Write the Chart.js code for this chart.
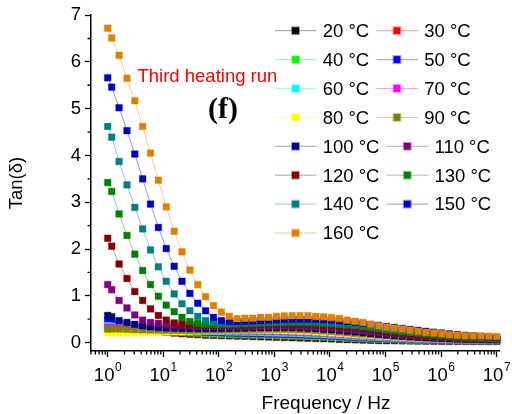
<!DOCTYPE html>
<html>
<head>
<meta charset="utf-8">
<script src="https://cdn.jsdelivr.net/npm/chart.js@4.4.0/dist/chart.umd.min.js"></script>
<style>
  html, body { margin: 0; padding: 0; background: #fff; }
  #wrap { width: 512px; height: 414px; }
</style>
</head>
<body>
<div id="wrap"><canvas id="chart" width="512" height="414"></canvas></div>
<script>
// frequencies (Hz) shared by all runs
const freqs = [1, 1.18, 1.6, 2.22, 3.07, 4.25, 5.89, 8.16, 11.3, 15.7,
  21.7, 30.1, 41.7, 57.7, 80, 111, 154, 213, 295, 408,
  566, 784, 1085, 1504, 2084, 2887, 4000, 5541, 7677, 10634,
  14734, 20408, 28275, 39170, 54270, 75190, 104200, 144300, 199900, 277000,
  383800, 531700, 736600, 1020000, 1414000, 1959000, 2714000, 3760000, 5210000, 7220000, 10000000];

const temps = ['20 °C', '30 °C', '40 °C', '50 °C', '60 °C', '70 °C', '80 °C', '90 °C',
  '100 °C', '110 °C', '120 °C', '130 °C', '140 °C', '150 °C', '160 °C'];

const colors = ['#000000', '#FF0000', '#00FF00', '#0000FF', '#00FFFF', '#FF00FF', '#FFFF00', '#808000',
  '#000080', '#800080', '#800000', '#008000', '#008080', '#0000C0', '#E08000'];

const tan20 = [0.30, 0.29, 0.28, 0.27, 0.26, 0.255, 0.25, 0.235, 0.22, 0.205,
  0.19, 0.18, 0.17, 0.16, 0.155, 0.15, 0.145, 0.14, 0.135, 0.13,
  0.125, 0.12, 0.115, 0.11, 0.105, 0.10, 0.095, 0.09, 0.085, 0.08,
  0.07, 0.065, 0.06, 0.055, 0.05, 0.045, 0.042, 0.04, 0.038, 0.036,
  0.034, 0.032, 0.03, 0.028, 0.027, 0.026, 0.025, 0.024, 0.023, 0.022, 0.022];
const tan30 = [0.32, 0.31, 0.30, 0.29, 0.28, 0.27, 0.265, 0.25, 0.235, 0.22,
  0.205, 0.195, 0.185, 0.178, 0.172, 0.167, 0.163, 0.159, 0.155, 0.151,
  0.147, 0.143, 0.139, 0.135, 0.13, 0.125, 0.12, 0.114, 0.108, 0.102,
  0.095, 0.088, 0.082, 0.076, 0.07, 0.065, 0.06, 0.056, 0.052, 0.049,
  0.046, 0.044, 0.042, 0.04, 0.038, 0.036, 0.034, 0.033, 0.032, 0.031, 0.03];
const tan40 = [0.40, 0.38, 0.35, 0.33, 0.31, 0.295, 0.28, 0.265, 0.25, 0.237,
  0.225, 0.215, 0.205, 0.197, 0.19, 0.185, 0.18, 0.176, 0.172, 0.168,
  0.164, 0.16, 0.156, 0.152, 0.147, 0.142, 0.136, 0.13, 0.123, 0.116,
  0.108, 0.1, 0.093, 0.086, 0.08, 0.074, 0.069, 0.064, 0.06, 0.056,
  0.053, 0.05, 0.047, 0.045, 0.043, 0.041, 0.039, 0.038, 0.037, 0.036, 0.035];
const tan50 = [0.48, 0.45, 0.41, 0.38, 0.35, 0.33, 0.31, 0.295, 0.28, 0.266,
  0.254, 0.243, 0.233, 0.224, 0.216, 0.21, 0.205, 0.2, 0.196, 0.192,
  0.188, 0.184, 0.18, 0.176, 0.171, 0.166, 0.16, 0.153, 0.145, 0.137,
  0.128, 0.119, 0.11, 0.102, 0.094, 0.087, 0.081, 0.075, 0.07, 0.066,
  0.062, 0.058, 0.055, 0.052, 0.05, 0.048, 0.046, 0.044, 0.043, 0.042, 0.041];
const tan60 = [0.36, 0.35, 0.34, 0.33, 0.32, 0.31, 0.30, 0.29, 0.28, 0.272,
  0.264, 0.257, 0.25, 0.244, 0.238, 0.233, 0.228, 0.224, 0.22, 0.216,
  0.212, 0.208, 0.204, 0.2, 0.195, 0.19, 0.183, 0.176, 0.168, 0.159,
  0.15, 0.14, 0.13, 0.121, 0.112, 0.104, 0.097, 0.09, 0.084, 0.078,
  0.073, 0.069, 0.065, 0.061, 0.058, 0.055, 0.053, 0.051, 0.049, 0.048, 0.047];
const tan70 = [0.33, 0.325, 0.32, 0.31, 0.30, 0.295, 0.29, 0.285, 0.28, 0.276,
  0.272, 0.268, 0.264, 0.26, 0.257, 0.254, 0.251, 0.248, 0.245, 0.242,
  0.239, 0.236, 0.232, 0.228, 0.223, 0.217, 0.21, 0.202, 0.193, 0.183,
  0.173, 0.162, 0.151, 0.141, 0.131, 0.122, 0.113, 0.105, 0.098, 0.091,
  0.085, 0.079, 0.074, 0.07, 0.066, 0.062, 0.059, 0.057, 0.055, 0.053, 0.052];
const tan80 = [0.21, 0.21, 0.21, 0.21, 0.21, 0.21, 0.215, 0.22, 0.225, 0.23,
  0.235, 0.24, 0.245, 0.25, 0.255, 0.259, 0.262, 0.264, 0.266, 0.266,
  0.265, 0.262, 0.258, 0.254, 0.249, 0.243, 0.236, 0.227, 0.217, 0.206,
  0.195, 0.183, 0.171, 0.159, 0.148, 0.137, 0.127, 0.118, 0.109, 0.101,
  0.094, 0.088, 0.082, 0.076, 0.071, 0.067, 0.063, 0.06, 0.057, 0.055, 0.054];
const tan90 = [0.29, 0.29, 0.29, 0.285, 0.28, 0.275, 0.27, 0.268, 0.266, 0.265,
  0.265, 0.265, 0.266, 0.268, 0.27, 0.273, 0.276, 0.279, 0.282, 0.285,
  0.287, 0.288, 0.288, 0.287, 0.284, 0.279, 0.272, 0.263, 0.252, 0.24,
  0.227, 0.213, 0.199, 0.185, 0.171, 0.158, 0.146, 0.134, 0.123, 0.113,
  0.104, 0.096, 0.089, 0.082, 0.076, 0.071, 0.066, 0.062, 0.059, 0.057, 0.056];
const tan100 = [0.58, 0.55, 0.47, 0.43, 0.39, 0.36, 0.34, 0.325, 0.315, 0.31,
  0.305, 0.302, 0.30, 0.30, 0.301, 0.303, 0.306, 0.309, 0.312, 0.315,
  0.318, 0.32, 0.321, 0.321, 0.319, 0.315, 0.309, 0.30, 0.289, 0.276,
  0.262, 0.246, 0.23, 0.213, 0.196, 0.18, 0.165, 0.151, 0.138, 0.126,
  0.115, 0.105, 0.096, 0.088, 0.081, 0.075, 0.07, 0.066, 0.063, 0.061, 0.06];
const tan110 = [1.24, 1.13, 0.90, 0.74, 0.59, 0.48, 0.43, 0.41, 0.39, 0.375,
  0.365, 0.357, 0.35, 0.346, 0.343, 0.342, 0.342, 0.343, 0.345, 0.347,
  0.35, 0.352, 0.354, 0.355, 0.354, 0.351, 0.346, 0.338, 0.328, 0.316,
  0.302, 0.286, 0.269, 0.251, 0.233, 0.215, 0.198, 0.181, 0.166, 0.151,
  0.138, 0.126, 0.115, 0.105, 0.096, 0.088, 0.081, 0.075, 0.07, 0.066, 0.064];
const tan120 = [2.23, 2.06, 1.68, 1.37, 1.09, 0.90, 0.72, 0.58, 0.48, 0.42,
  0.40, 0.385, 0.375, 0.37, 0.367, 0.366, 0.367, 0.369, 0.372, 0.376,
  0.38, 0.384, 0.387, 0.389, 0.389, 0.387, 0.383, 0.376, 0.367, 0.356,
  0.342, 0.326, 0.309, 0.29, 0.271, 0.251, 0.232, 0.213, 0.195, 0.178,
  0.162, 0.147, 0.134, 0.122, 0.111, 0.101, 0.092, 0.085, 0.079, 0.074, 0.071];
const tan130 = [3.42, 3.23, 2.75, 2.29, 1.89, 1.54, 1.24, 0.99, 0.80, 0.66,
  0.54, 0.45, 0.41, 0.395, 0.39, 0.39, 0.392, 0.396, 0.401, 0.406,
  0.412, 0.418, 0.423, 0.427, 0.429, 0.429, 0.426, 0.42, 0.412, 0.401,
  0.388, 0.372, 0.355, 0.336, 0.316, 0.295, 0.274, 0.253, 0.233, 0.214,
  0.196, 0.179, 0.163, 0.148, 0.135, 0.123, 0.112, 0.102, 0.094, 0.087, 0.082];
const tan140 = [4.62, 4.39, 3.87, 3.37, 2.89, 2.43, 1.98, 1.62, 1.31, 1.04,
  0.83, 0.68, 0.56, 0.47, 0.43, 0.415, 0.41, 0.412, 0.418, 0.425,
  0.432, 0.44, 0.447, 0.453, 0.457, 0.458, 0.456, 0.451, 0.443, 0.433,
  0.42, 0.405, 0.388, 0.37, 0.35, 0.33, 0.309, 0.288, 0.268, 0.248,
  0.229, 0.211, 0.194, 0.178, 0.163, 0.149, 0.136, 0.124, 0.113, 0.104, 0.097];
const tan150 = [5.66, 5.46, 5.02, 4.53, 4.03, 3.50, 2.96, 2.46, 2.01, 1.63,
  1.31, 1.05, 0.84, 0.68, 0.54, 0.47, 0.45, 0.45, 0.455, 0.46,
  0.468, 0.476, 0.484, 0.491, 0.496, 0.498, 0.497, 0.493, 0.486, 0.476,
  0.463, 0.447, 0.43, 0.411, 0.39, 0.369, 0.347, 0.325, 0.303, 0.282,
  0.261, 0.241, 0.222, 0.204, 0.187, 0.171, 0.156, 0.143, 0.131, 0.12, 0.111];
const tan160 = [6.72, 6.51, 6.14, 5.65, 5.17, 4.62, 4.05, 3.47, 2.90, 2.38,
  1.94, 1.55, 1.24, 0.98, 0.79, 0.65, 0.56, 0.51, 0.52, 0.52,
  0.54, 0.54, 0.56, 0.57, 0.575, 0.575, 0.575, 0.56, 0.55, 0.535,
  0.515, 0.48, 0.455, 0.43, 0.39, 0.36, 0.335, 0.31, 0.29, 0.265,
  0.243, 0.22, 0.207, 0.19, 0.17, 0.158, 0.15, 0.145, 0.14, 0.137, 0.13];

const seriesValues = [tan20, tan30, tan40, tan50, tan60, tan70, tan80, tan90,
  tan100, tan110, tan120, tan130, tan140, tan150, tan160];

// x axis labels are powers of ten
const xDecades = [0, 1, 2, 3, 4, 5, 6, 7];

const FONT = '"Liberation Sans", Arial, sans-serif';

// lighter version of a colour, used for the connecting lines
function light(hex, a) {
    const n = parseInt(hex.slice(1), 16);
    return `rgba(${(n >> 16) & 255}, ${(n >> 8) & 255}, ${n & 255}, ${a})`;
}

const datasets = seriesValues.map((vals, i) => ({
    label: temps[i],
    data: freqs.map((f, j) => ({ x: f, y: vals[j] })),
    borderColor: light(colors[i], 0.4),
    borderWidth: 1,
    pointStyle: 'rect',
    pointRadius: 4.7,
    pointBackgroundColor: colors[i],
    pointBorderColor: light(colors[i], 0.35),
    pointBorderWidth: 1,
    order: seriesValues.length - 1 - i,   // hottest run drawn on top
    clip: false,
    tension: 0
}));

// minor ticks, legend, annotations, x labels
const decorations = {
    id: 'decorations',
    afterDraw(chart) {
        const ctx = chart.ctx;
        const xs = chart.scales.x;
        const ys = chart.scales.y;
        const area = chart.chartArea;
        ctx.save();

        // minor ticks
        ctx.strokeStyle = '#000';
        ctx.lineWidth = 1.3;
        ctx.beginPath();
        for (let v = 0.5; v < 7; v += 1) {
            const py = ys.getPixelForValue(v);
            ctx.moveTo(area.left - 3.5, py);
            ctx.lineTo(area.left, py);
        }
        for (let d = -1; d <= 6; d++) {
            for (let m = 2; m <= 9; m++) {
                const v = m * Math.pow(10, d);
                if (v < xs.min || v > xs.max) continue;
                const px = xs.getPixelForValue(v);
                ctx.moveTo(px, area.bottom);
                ctx.lineTo(px, area.bottom + 3.5);
            }
        }
        ctx.stroke();

        // x tick labels 10^n
        ctx.fillStyle = '#000';
        ctx.textAlign = 'left';
        ctx.textBaseline = 'alphabetic';
        xDecades.forEach(d => {
            const px = xs.getPixelForValue(Math.pow(10, d));
            ctx.font = '18.5px ' + FONT;
            const w1 = ctx.measureText('10').width;
            ctx.font = '12px ' + FONT;
            const w2 = ctx.measureText(String(d)).width;
            const left = px - (w1 + w2 + 0.5) / 2;
            ctx.font = '18.5px ' + FONT;
            ctx.fillText('10', left, area.bottom + 29.5);
            ctx.font = '12px ' + FONT;
            ctx.fillText(String(d), left + w1 + 0.5, area.bottom + 19.5);
        });

        // x title
        ctx.font = '19px ' + FONT;
        ctx.textAlign = 'center';
        ctx.fillText('Frequency / Hz', 326, 408.5);

        // annotations
        ctx.textAlign = 'left';
        ctx.fillStyle = '#FF0000';
        ctx.font = '18.5px ' + FONT;
        ctx.fillText('Third heating run', 137.5, 81.5);
        ctx.fillStyle = '#000';
        ctx.font = 'bold 30px "Liberation Serif", "Times New Roman", serif';
        ctx.fillText('(f)', 208, 117.6);

        // legend, two items per row
        const legLeft = 275;
        const rowTop = 30.7;
        const rowGap = 28.9;
        let lx = legLeft;
        ctx.font = '18.5px ' + FONT;
        chart.data.datasets.forEach((ds, i) => {
            if (i % 2 === 0) lx = legLeft;
            const cy = rowTop + Math.floor(i / 2) * rowGap;
            ctx.strokeStyle = ds.borderColor;
            ctx.lineWidth = 1;
            ctx.beginPath();
            ctx.moveTo(lx, cy);
            ctx.lineTo(lx + 41.5, cy);
            ctx.stroke();
            ctx.fillStyle = ds.pointBackgroundColor;
            ctx.fillRect(lx + 17, cy - 3.5, 7, 7);
            ctx.strokeStyle = ds.pointBorderColor;
            ctx.strokeRect(lx + 16.5, cy - 4, 8, 8);
            ctx.fillStyle = '#000';
            ctx.fillText(ds.label, lx + 47.7, cy + 6.3);
            lx += 47.7 + ctx.measureText(ds.label).width + 7.3;
        });

        ctx.restore();
    }
};

new Chart(document.getElementById('chart'), {
    type: 'line',
    data: { datasets: datasets },
    options: {
        responsive: false,
        animation: false,
        devicePixelRatio: 1,
        layout: { padding: { top: 15, right: 13, left: 0, bottom: 0 } },
        plugins: {
            legend: { display: false },
            tooltip: { enabled: false }
        },
        scales: {
            x: {
                type: 'logarithmic',
                min: 0.5,
                max: 1.1e7,
                afterBuildTicks: (scale) => {
                    scale.ticks = xDecades.map(d => ({ value: Math.pow(10, d), major: true }));
                },
                afterFit: (scale) => { scale.height = 63; },
                ticks: { display: false },
                grid: {
                    drawOnChartArea: false,
                    drawTicks: true,
                    tickLength: 6,
                    tickColor: '#000',
                    tickWidth: 1.3
                },
                border: { display: true, color: '#000', width: 1.5 }
            },
            y: {
                min: -0.18,
                max: 7,
                afterFit: (scale) => { scale.width = 91; },
                ticks: {
                    stepSize: 1,
                    includeBounds: false,
                    color: '#000',
                    padding: 4,
                    font: { family: FONT, size: 18.5 }
                },
                grid: {
                    drawOnChartArea: false,
                    drawTicks: true,
                    tickLength: 6,
                    tickColor: '#000',
                    tickWidth: 1.3
                },
                border: { display: true, color: '#000', width: 1.5 },
                title: {
                    display: true,
                    text: 'Tan(δ)',
                    color: '#000',
                    font: { family: FONT, size: 18.5 },
                    padding: { top: 6, bottom: 0 }
                }
            }
        }
    },
    plugins: [decorations]
});
</script>
</body>
</html>
